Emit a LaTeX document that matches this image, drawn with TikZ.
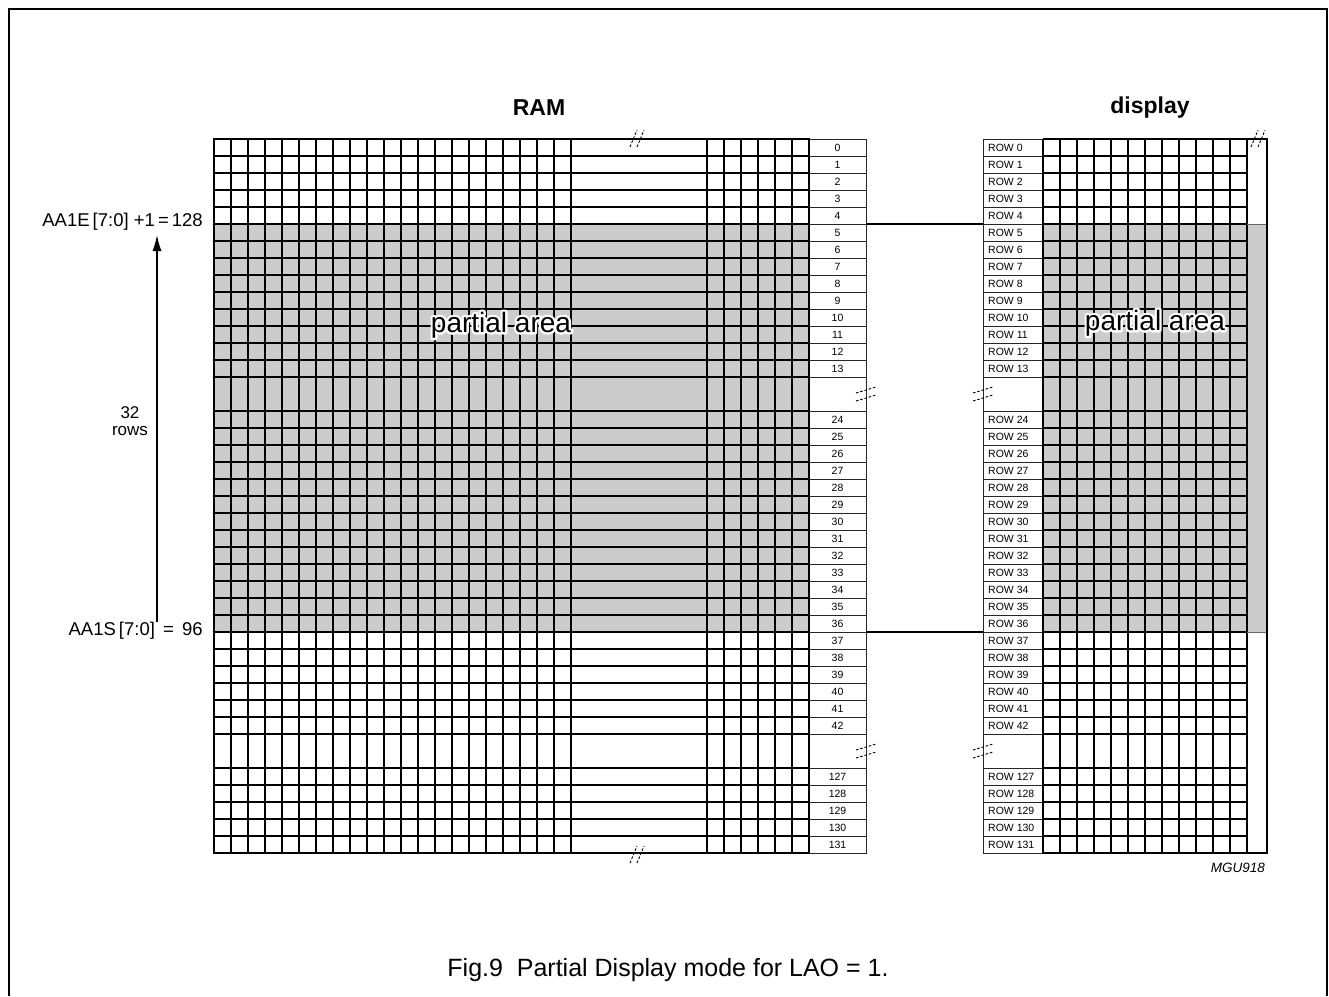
\documentclass[tikz,border=0pt]{standalone}
\usepackage{fontspec}
\setmainfont{Liberation Sans}
\usetikzlibrary{arrows.meta}
\newcommand\fsz[1]{\fontsize{#1}{#1}\selectfont}
\newcommand\rowpair[2]{%
  \pgfmathsetmacro\yt{139+17*#1}%
  \draw[lbox] (809,\yt) rectangle (866,\yt+17);
  \node[ramlab] (ram#2) at (837.5,\yt+9) {#2};
  \draw[lbox] (983,\yt) rectangle (1043,\yt+17);
  \node[rowlab] (row#2) at (988,\yt+9) {ROW #2};
}
\newcommand\halo[3]{% name, position, text
  \node[areatxt] (#1h) at #2 {\special{pdf:literal direct 1 1 1 RG 4.6 w 1 j 1 Tr}#3\special{pdf:literal direct 0 Tr 0 0 0 RG 0.4 w}};
  \node[areatxt] (#1) at #2 {#3};
}
\begin{document}
\begin{tikzpicture}[x=1pt,y=-1pt,
  grid/.style={line width=1.7pt,black},
  border/.style={line width=2.6pt,black},
  lbox/.style={line width=0.8pt,black!85},
  brk/.style={line width=0.9pt,dash pattern=on 2.6pt off 1.8pt},
  shade/.style={fill=black!20},
  ramlab/.style={inner sep=0pt,font=\fsz{10.5}},
  rowlab/.style={inner sep=0pt,anchor=west,font=\fsz{10.5}},
  areatxt/.style={inner sep=0pt,font=\fsz{28}},
  side/.style={inner sep=0pt,font=\fsz{18.5}},
  title/.style={inner sep=0pt,font=\fsz{23}\bfseries}]
\useasboundingbox (0,0) rectangle (1329,996);
% outer frame
\draw[line width=1.6pt] (9,996) -- (9,9) -- (1327,9) -- (1327,996);
% shading
\fill[shade] (214,224) rectangle (809,632);
\fill[shade] (1043,224) rectangle (1267,632);
% RAM vertical lines
\foreach \i in {1,...,21} \draw[grid] (214+17*\i,139) -- (214+17*\i,853);
\foreach \i in {0,...,5} \draw[grid] (707+17*\i,139) -- (707+17*\i,853);
% RAM horizontal lines
\foreach \k in {1,2,...,14,16,17,...,35,37,38,...,41}
  \draw[grid] (214,139+17*\k) -- (809,139+17*\k);
% display vertical lines
\foreach \i in {1,...,12} \draw[grid] (1043+17*\i,139) -- (1043+17*\i,853);
% display horizontal lines
\foreach \k in {1,2,...,14,16,17,...,35,37,38,...,41}
  \draw[grid] (1043,139+17*\k) -- (1247,139+17*\k);
\draw[line width=0.8pt,black!60] (1247,224) -- (1267,224);
\draw[line width=0.8pt,black!60] (1247,632) -- (1267,632);
% label boxes
\foreach \k in {0,...,13} {\rowpair{\k}{\k}}
\foreach \k in {16,...,34} {\pgfmathtruncatemacro\lb{\k+8}\rowpair{\k}{\lb}}
\foreach \k in {37,...,41} {\pgfmathtruncatemacro\lb{\k+90}\rowpair{\k}{\lb}}
\foreach \y in {377,734} {
  \draw[lbox] (866,\y) -- (866,\y+34);
  \draw[lbox] (983,\y) -- (983,\y+34);
}
% borders
\draw[border] (214,139) rectangle (809,853);
\draw[border] (1043,139) -- (1043,853) -- (1267,853) -- (1267,139) -- (1043,139);
% connecting lines
\draw[line width=1.1pt] (866,224) -- (983,224);
\draw[line width=1.1pt] (866,632) -- (983,632);
% break marks
\foreach \d in {0,7} {
  \draw[brk] (630+\d,147) -- (637+\d,130);
  \draw[brk] (630+\d,863) -- (637+\d,846);
  \draw[brk] (1251+\d,147) -- (1258+\d,130);
}
\foreach \y in {0,357} {
  \draw[brk] (856,393+\y) -- (876,387+\y);
  \draw[brk] (856,401+\y) -- (876,395+\y);
  \draw[brk] (973,393+\y) -- (993,387+\y);
  \draw[brk] (973,401+\y) -- (993,395+\y);
}
% titles
\node[title] (ramtitle) at (539,108) {RAM};
\node[title] (disptitle) at (1150,108) {display};
% partial area
\halo{pa1}{(501,325)}{partial area}
\halo{pa2}{(1155,323)}{partial area}
% left annotations
\node[side,anchor=east] (aae) at (203,222) {AA1E\,[7:0] +1\,=\,128};
\node[side,anchor=east] (aas) at (203,631) {AA1S\,[7:0] \,=\, 96};
\coordinate (abot) at (157,622);
\coordinate (atop) at (157,235);
\draw[line width=1.4pt,-{Latex[length=16pt,width=9pt]}] (abot) -- (atop);
\node[side,align=center,font=\fsz{17}] (rows) at (130,421) {32\\rows};
% id and caption
\node[inner sep=0pt,anchor=east,font=\fsz{13.5}\itshape] (mgu) at (1265,868) {MGU918};
\node[inner sep=0pt,font=\fsz{25}] (cap) at (668,970) {Fig.9\ \ Partial Display mode for LAO = 1.};
\end{tikzpicture}
\end{document}
